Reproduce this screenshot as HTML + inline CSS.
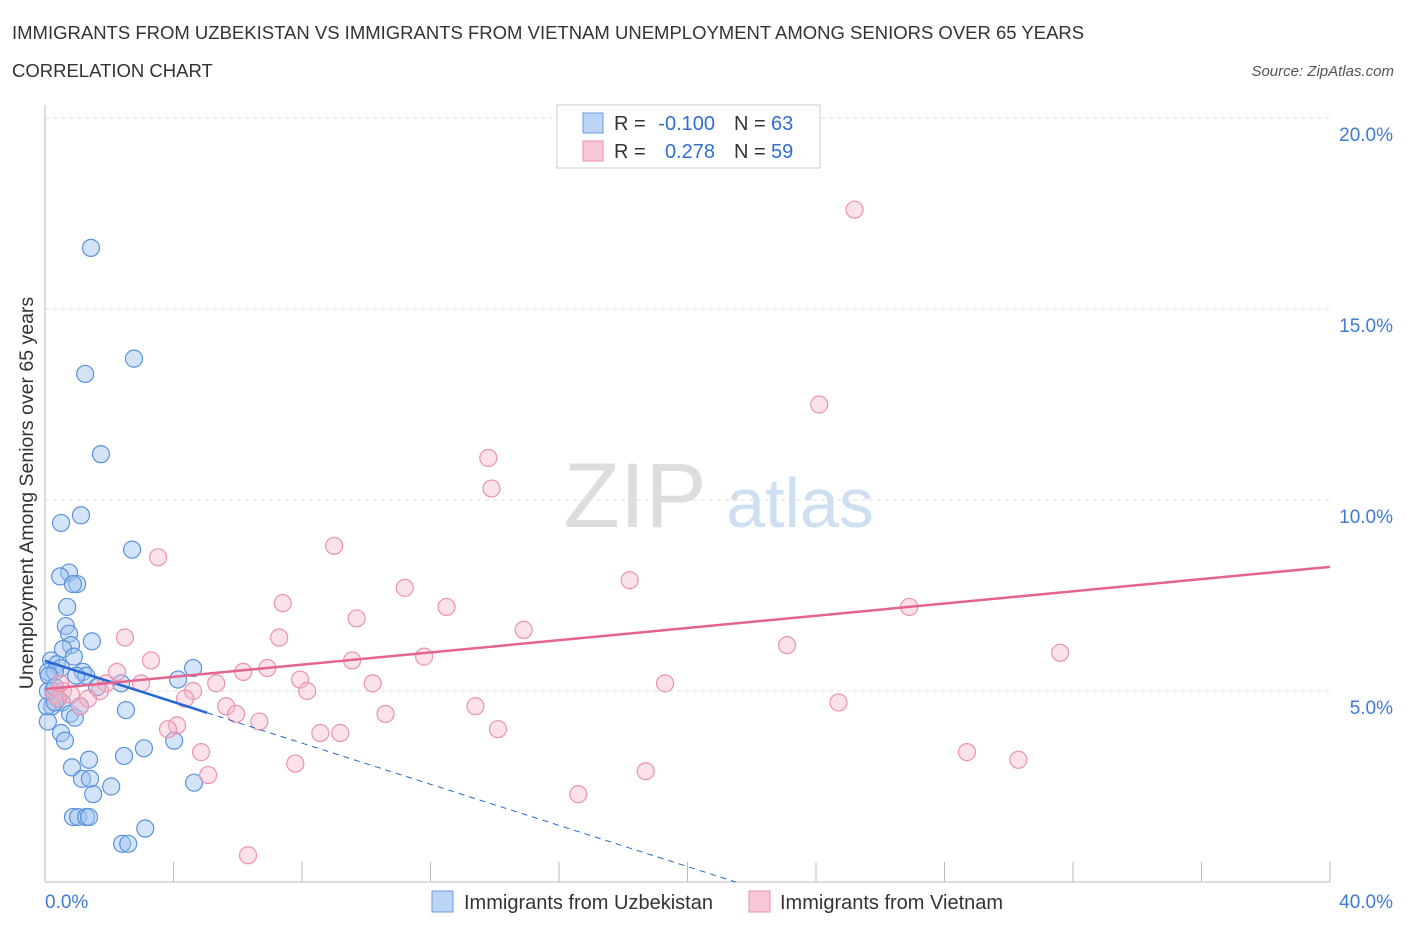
<!DOCTYPE html>
<html><head><meta charset="utf-8"><style>
body{margin:0;background:#fff;font-family:"Liberation Sans",sans-serif;}
svg text{font-family:"Liberation Sans",sans-serif;}
</style></head><body>
<svg id="c" width="1406" height="930" xmlns="http://www.w3.org/2000/svg">
<text x="12" y="39" font-size="18.5" fill="#333">IMMIGRANTS FROM UZBEKISTAN VS IMMIGRANTS FROM VIETNAM UNEMPLOYMENT AMONG SENIORS OVER 65 YEARS</text>
<text x="12" y="77" font-size="18.5" fill="#333">CORRELATION CHART</text>
<text x="1394" y="76" font-size="15" fill="#555" font-style="italic" text-anchor="end">Source: ZipAtlas.com</text>
<text x="33" y="493" font-size="19.5" fill="#333" text-anchor="middle" transform="rotate(-90 33 493)">Unemployment Among Seniors over 65 years</text>
<text x="635" y="527" font-size="92" fill="#ddd" text-anchor="middle" font-family="Liberation Serif">ZIP</text>
<text x="800" y="527" font-size="70" fill="#cfdff2" text-anchor="middle">atlas</text>
<g id="grid"></g><g id="pts"></g><g id="lines"></g>
<g>
<rect x="557" y="105" width="263" height="63" fill="#fff" stroke="#ccc"/>
<rect x="583" y="113" width="20" height="20" fill="#bcd4f5" stroke="#6a9be0"/>
<rect x="583" y="141" width="20" height="20" fill="#f8c8d6" stroke="#e990ab"/>
<text x="614" y="130" font-size="20" fill="#333">R =</text>
<text x="715" y="130" font-size="20" fill="#2f6fd1" text-anchor="end">-0.100</text>
<text x="734" y="130" font-size="20" fill="#333">N =</text>
<text x="771" y="130" font-size="20" fill="#2f6fd1">63</text>
<text x="614" y="158" font-size="20" fill="#333">R =</text>
<text x="715" y="158" font-size="20" fill="#2f6fd1" text-anchor="end">0.278</text>
<text x="734" y="158" font-size="20" fill="#333">N =</text>
<text x="771" y="158" font-size="20" fill="#2f6fd1">59</text>
</g>
<g>
<rect x="432" y="891" width="21" height="21" fill="#bcd4f5" stroke="#6a9be0"/>
<text x="464" y="909" font-size="20" fill="#333">Immigrants from Uzbekistan</text>
<rect x="749" y="891" width="21" height="21" fill="#f8c8d6" stroke="#e990ab"/>
<text x="780" y="909" font-size="20" fill="#333">Immigrants from Vietnam</text>
</g>
</svg>
<script>
const yTicks=[5,10,15,20];
const xTickVals=[0,4,8,12,16,20,24,28,32,36,40];
const blueX=[1.43,1.25,2.77,1.74,1.12,0.50,2.71,0.75,0.47,1.00,0.87,0.69,0.65,0.75,0.81,1.46,0.56,0.90,0.19,0.37,0.50,0.09,0.31,1.18,1.28,0.97,0.12,0.25,0.40,0.53,0.78,0.93,0.09,0.22,0.06,0.31,2.37,4.61,4.14,1.62,1.09,2.52,0.50,0.62,4.02,3.08,2.46,1.37,0.84,1.15,1.40,1.50,2.06,4.64,0.87,1.03,1.28,1.37,3.12,2.40,2.59,0.09,0.31];
const blueY=[16.6,13.3,13.7,11.2,9.6,9.4,8.7,8.1,8.0,7.8,7.8,7.2,6.7,6.5,6.2,6.3,6.1,5.9,5.8,5.7,5.6,5.5,5.5,5.5,5.4,5.4,5.4,5.0,4.8,4.7,4.4,4.3,4.2,4.6,4.6,4.7,5.2,5.6,5.3,5.1,4.6,4.5,3.9,3.7,3.7,3.5,3.3,3.2,3.0,2.7,2.7,2.3,2.5,2.6,1.7,1.7,1.7,1.7,1.4,1.0,1.0,5.0,5.1];
const pinkX=[25.2,24.1,13.8,13.9,9.0,3.52,18.2,11.2,7.4,12.5,9.7,14.9,2.49,7.29,23.1,26.9,31.6,11.8,3.30,9.56,6.92,6.17,2.24,5.33,7.94,10.2,19.3,1.90,2.99,8.16,4.61,4.36,1.71,0.56,0.81,1.34,0.31,0.40,1.09,24.7,13.4,5.64,5.95,10.6,4.11,3.83,6.67,8.57,9.19,14.1,4.86,28.7,30.3,7.79,18.7,5.08,16.6,6.32,0.47];
const pinkY=[17.6,12.5,11.1,10.3,8.8,8.5,7.9,7.7,7.3,7.2,6.9,6.6,6.4,6.4,6.2,7.2,6.0,5.9,5.8,5.8,5.6,5.5,5.5,5.2,5.3,5.2,5.2,5.2,5.2,5.0,5.0,4.8,5.0,5.0,4.9,4.8,4.9,4.8,4.6,4.7,4.6,4.6,4.4,4.4,4.1,4.0,4.2,3.9,3.9,4.0,3.4,3.4,3.2,3.1,2.9,2.8,2.3,0.7,5.2];
const blueLine=[[0,5.79],[5.05,4.43]];
const blueDash=[[5.05,4.43],[21.5,0]];
const pinkLine=[[0,5.05],[40,8.25]];
const X=v=>45+v*32.125, Y=v=>882-v*38.2;
const NS='http://www.w3.org/2000/svg';
function mk(t,a,p){const e=document.createElementNS(NS,t);for(const k in a)e.setAttribute(k,a[k]);p.appendChild(e);return e;}
const g=document.getElementById('grid');
yTicks.forEach(v=>{
 const l=mk('line',{x1:45,x2:1330,y1:Y(v),y2:Y(v),stroke:'#ddd','stroke-dasharray':'4,4'},g);
 
 
 const t=mk('text',{x:1393,y:Y(v)+23,'font-size':19,fill:'#3d7bd6','text-anchor':'end'},g);t.textContent=v.toFixed(1)+'%';
 
 
});
const ax=mk('line',{x1:45,x2:1330,y1:882,y2:882,stroke:'#bbb'},g);


const ay=mk('line',{x1:45,x2:45,y1:105,y2:882,stroke:'#bbb'},g);


xTickVals.forEach(v=>{const l=mk('line',{x1:X(v),x2:X(v),y1:862,y2:882,stroke:'#bbb'},g);
 
 });
[[0,'0.0%',45,'start'],[40,'40.0%',1393,'end']].forEach(a=>{const t=mk('text',{x:a[2],y:908,'font-size':19,fill:'#3d7bd6','text-anchor':a[3]},g);t.textContent=a[1];
 
 });
const p=document.getElementById('pts');
blueX.forEach((v,i)=>{const c=mk('circle',{cx:X(v),cy:Y(blueY[i]),r:8.5,fill:'rgba(160,196,240,0.45)',stroke:'#5b92de','stroke-width':1.2},p);
 
 });
pinkX.forEach((v,i)=>{const c=mk('circle',{cx:X(v),cy:Y(pinkY[i]),r:8.5,fill:'rgba(246,180,200,0.4)',stroke:'#eb93ad','stroke-width':1.2},p);
 
 });
const L=document.getElementById('lines');
const b1=mk('line',{x1:X(blueLine[0][0]),y1:Y(blueLine[0][1]),x2:X(blueLine[1][0]),y2:Y(blueLine[1][1]),stroke:'#2668d0','stroke-width':2.5},L);


const b2=mk('line',{x1:X(blueDash[0][0]),y1:Y(blueDash[0][1]),x2:X(blueDash[1][0]),y2:Y(blueDash[1][1]),stroke:'#2668d0','stroke-width':1,'stroke-dasharray':'6,5'},L);


const p1=mk('line',{x1:X(pinkLine[0][0]),y1:Y(pinkLine[0][1]),x2:X(pinkLine[1][0]),y2:Y(pinkLine[1][1]),stroke:'#e5648e','stroke-width':2.5},L);


</script>
</body></html>
